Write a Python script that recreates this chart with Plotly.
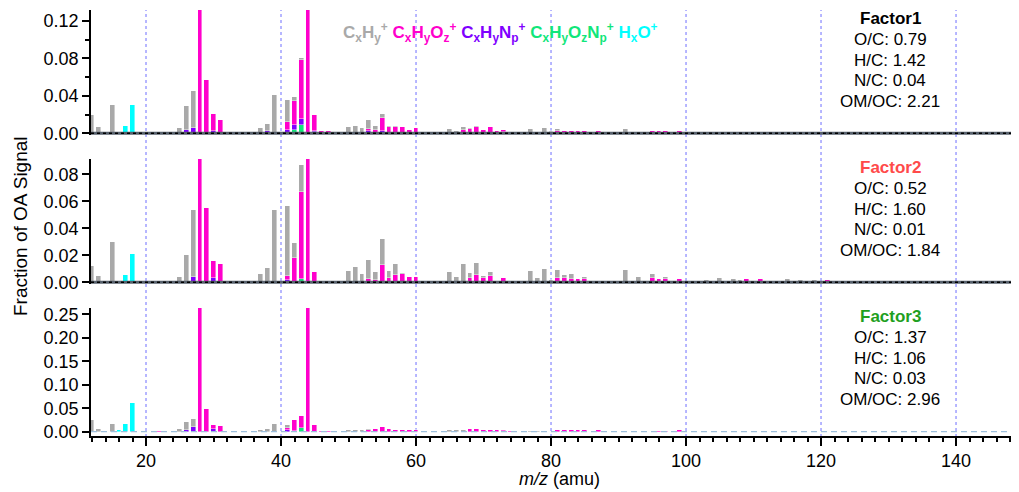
import plotly.graph_objects as go

# ---------------- data (fraction of OA signal by m/z and ion family) ----------------
F1_CxHy = {12: 0.020, 13: 0.0068, 15: 0.030, 24: 0.0008, 25: 0.006, 26: 0.026, 27: 0.040,
           37: 0.006, 38: 0.008, 39: 0.0406, 41: 0.0236, 42: 0.0043, 43: 0.0025, 50: 0.0068,
           51: 0.0078, 52: 0.0053, 53: 0.0096, 54: 0.0042, 55: 0.0043, 56: 0.001, 57: 0.001,
           65: 0.0046, 66: 0.0025, 67: 0.0028, 68: 0.001, 69: 0.001, 77: 0.0046, 78: 0.001,
           79: 0.0053, 80: 0.001, 81: 0.0026, 91: 0.0046, 105: 0.001}
F1_CxHyOz = {28: 0.14, 29: 0.057, 30: 0.0187, 31: 0.0139, 41: 0.008, 42: 0.0255, 43: 0.063,
             44: 0.14, 45: 0.017, 46: 0.002, 47: 0.002, 53: 0.0026, 54: 0.004, 55: 0.0135,
             56: 0.0064, 57: 0.0064, 58: 0.0064, 59: 0.0032, 60: 0.0057, 61: 0.001, 67: 0.004,
             68: 0.0047, 69: 0.007, 70: 0.0036, 71: 0.0064, 72: 0.0025, 73: 0.0026, 74: 0.001,
             81: 0.002, 82: 0.003, 83: 0.0025, 84: 0.002, 85: 0.003, 86: 0.001, 87: 0.002,
             95: 0.0025, 96: 0.002, 97: 0.002, 98: 0.0015, 99: 0.0025, 101: 0.001, 103: 0.001,
             109: 0.001, 111: 0.001, 113: 0.001}
F1_CxHyNp = {26: 0.0035, 27: 0.0057, 30: 0.002, 38: 0.002, 41: 0.004, 42: 0.0054, 43: 0.006,
             45: 0.002, 53: 0.002, 55: 0.0025, 80: 0.001}
F1_CxHyOzNp = {42: 0.0036, 43: 0.0089, 45: 0.001, 73: 0.001}
F1_HxO = {16: 0.001, 17: 0.0078, 18: 0.030}

F2_CxHy = {12: 0.0121, 13: 0.0047, 15: 0.030, 24: 0.0005, 25: 0.004, 26: 0.020, 27: 0.0491,
           37: 0.006, 38: 0.0106, 39: 0.0533, 41: 0.0518, 42: 0.0106, 43: 0.0197, 49: 0.0008,
           50: 0.0081, 51: 0.011, 52: 0.0062, 53: 0.014, 54: 0.006, 55: 0.0193, 56: 0.0049,
           57: 0.0079, 58: 0.0003, 61: 0.0007, 62: 0.0007, 65: 0.0074, 66: 0.004, 67: 0.0138,
           68: 0.0035, 69: 0.0089, 70: 0.0018, 71: 0.0027, 72: 0.0007, 74: 0.0007, 75: 0.0007,
           77: 0.0086, 78: 0.0035, 79: 0.010, 80: 0.0015, 81: 0.0054, 82: 0.0019, 83: 0.0037,
           85: 0.0015, 86: 0.0007, 89: 0.0007, 91: 0.0094, 92: 0.0007, 93: 0.004, 95: 0.0027,
           97: 0.0018, 98: 0.0007, 103: 0.0015, 105: 0.0032, 107: 0.0022, 108: 0.0015,
           115: 0.0025, 117: 0.0015, 119: 0.0015, 123: 0.001, 125: 0.0007, 128: 0.001}
F2_CxHyOz = {28: 0.095, 29: 0.055, 30: 0.0123, 31: 0.0138, 41: 0.0027, 42: 0.0183, 43: 0.0647,
             44: 0.095, 45: 0.0077, 46: 0.001, 47: 0.0005, 53: 0.0025, 54: 0.0017, 55: 0.0126,
             56: 0.0032, 57: 0.0057, 58: 0.0064, 59: 0.004, 60: 0.004, 68: 0.0032, 69: 0.0054,
             70: 0.0032, 71: 0.005, 73: 0.0025, 81: 0.0035, 82: 0.0035, 83: 0.0025, 84: 0.0025,
             85: 0.0025, 87: 0.0007, 94: 0.001, 95: 0.0035, 96: 0.0025, 97: 0.0022, 99: 0.0025,
             109: 0.0025, 111: 0.0022, 121: 0.0015}
F2_CxHyNp = {27: 0.0042, 30: 0.0035, 41: 0.002, 80: 0.0005}
F2_CxHyOzNp = {43: 0.0025, 73: 0.0005}
F2_HxO = {16: 0.001, 17: 0.0054, 18: 0.021}

F3_CxHy = {12: 0.025, 13: 0.0057, 15: 0.0156, 24: 0.001, 25: 0.0057, 26: 0.0171, 27: 0.016,
           37: 0.0035, 38: 0.0057, 39: 0.0156, 41: 0.005, 50: 0.004, 51: 0.004, 52: 0.004,
           53: 0.002, 65: 0.003, 66: 0.003, 67: 0.003, 77: 0.002, 78: 0.001}
F3_CxHyOz = {22: 0.0007, 28: 0.27, 29: 0.0475, 30: 0.0083, 31: 0.0114, 41: 0.005, 42: 0.022,
             43: 0.0248, 44: 0.27, 45: 0.015, 46: 0.001, 47: 0.001, 53: 0.004, 54: 0.006,
             55: 0.011, 56: 0.005, 57: 0.003, 58: 0.003, 59: 0.003, 60: 0.004, 68: 0.0057,
             69: 0.0057, 70: 0.004, 71: 0.004, 72: 0.003, 73: 0.003, 74: 0.002, 76: 0.001,
             81: 0.003, 82: 0.003, 83: 0.003, 84: 0.003, 85: 0.003, 87: 0.003, 96: 0.002,
             97: 0.002, 99: 0.003}
F3_CxHyNp = {26: 0.0035, 27: 0.010, 30: 0.0057, 41: 0.0035, 42: 0.002}
F3_CxHyOzNp = {43: 0.0078, 73: 0.001}
F3_HxO = {16: 0.0035, 17: 0.0163, 18: 0.061}

FACTOR_NAMES = ["Factor1", "Factor2", "Factor3"]
FACTOR_STATS = [
    ["O/C: 0.79", "H/C: 1.42", "N/C: 0.04", "OM/OC: 2.21"],
    ["O/C: 0.52", "H/C: 1.60", "N/C: 0.01", "OM/OC: 1.84"],
    ["O/C: 1.37", "H/C: 1.06", "N/C: 0.03", "OM/OC: 2.96"],
]
X_TICKS = [20, 40, 60, 80, 100, 120, 140]

# ---------------- styling ----------------
FONT = "Arial, 'Liberation Sans', sans-serif"
COL = {"CxHy": "#a9a9a9", "CxHyOz": "#ff00cc", "CxHyNp": "#7f00ff",
       "CxHyOzNp": "#11e67a", "HxO": "#00ffff"}
FACTOR_COLORS = ["#000000", "#ff4a4a", "#1fa01f"]

OFF = 8                      # the page body adds an 8px margin; compensate
W, H = 1019 - OFF, 492 - OFF
PL = 91 - OFF
XR = [11.85, 149.33]


def py(px):
    """reference-pixel y -> paper fraction"""
    return 1 - (px - OFF) / H


def pxf(px):
    """reference-pixel x -> paper fraction"""
    return (px - OFF - PL) / (W - PL)


factors = [
    (F1_CxHyOzNp, F1_CxHyNp, F1_CxHyOz, F1_CxHy, F1_HxO),
    (F2_CxHyOzNp, F2_CxHyNp, F2_CxHyOz, F2_CxHy, F2_HxO),
    (F3_CxHyOzNp, F3_CxHyNp, F3_CxHyOz, F3_CxHy, F3_HxO),
]
fam_order = ["CxHyOzNp", "CxHyNp", "CxHyOz", "CxHy", "HxO"]

fig = go.Figure()
for i, fac in enumerate(factors):
    ax = "" if i == 0 else str(i + 1)
    for fam, d in zip(fam_order, fac):
        fig.add_trace(go.Bar(
            x=list(d.keys()), y=list(d.values()), width=0.7,
            marker=dict(color=COL[fam], line=dict(color="rgba(255,255,255,0.7)", width=0.6)),
            xaxis="x" + ax, yaxis="y" + ax, showlegend=False, hoverinfo="x+y"))

panel_px = [(10, 135), (159, 284), (308, 436)]
yranges = [[-0.0018, 0.1317], [-0.0013, 0.0913], [-0.0092, 0.2634]]
ydticks = [0.04, 0.02, 0.05]
yminor = [0.02, None, None]

layout = dict(
    width=W, height=H, margin=dict(l=PL, r=0, t=0, b=0, autoexpand=False),
    paper_bgcolor="white", plot_bgcolor="white", barmode="stack", bargap=0,
    font=dict(family=FONT, size=18, color="black"),
)
for i in range(3):
    sfx = "" if i == 0 else str(i + 1)
    top, bot = panel_px[i]
    xa = dict(domain=[0, 1], range=XR, anchor="y" + sfx, showgrid=False, zeroline=False,
              fixedrange=True, automargin=False)
    if i == 2:
        xa.update(showline=True, linecolor="black", linewidth=1.5, ticks="outside",
                  ticklen=8, tickwidth=1.5, tickcolor="black", tickvals=X_TICKS,
                  tickfont=dict(size=18),
                  minor=dict(dtick=2, tick0=0, ticks="outside", ticklen=4, tickwidth=1.5,
                             tickcolor="black", showgrid=False))
    else:
        xa.update(showline=False, showticklabels=False, ticks="")
    ya = dict(domain=[py(bot), py(top)], range=yranges[i], anchor="x" + sfx,
              showgrid=False, zeroline=False, showline=True, linecolor="black",
              linewidth=1.5, ticks="outside", ticklen=7, tickwidth=1.5, tickcolor="black",
              dtick=ydticks[i], tick0=0, tickformat=".2f", tickfont=dict(size=18),
              fixedrange=True, automargin=False)
    if yminor[i]:
        ya["minor"] = dict(dtick=yminor[i], tick0=0, ticks="outside", ticklen=4,
                           tickwidth=1.5, tickcolor="black", showgrid=False)
    layout["xaxis" + sfx] = xa
    layout["yaxis" + sfx] = ya

shapes = []
for v in X_TICKS:
    shapes.append(dict(type="line", xref="x3", yref="paper", x0=v, x1=v,
                       y0=py(443), y1=py(10), layer="below",
                       line=dict(color="#6f6fff", width=1, dash="dot")))
for i in range(2):
    yr = "y" if i == 0 else "y2"
    shapes.append(dict(type="line", xref="paper", yref=yr, x0=0, x1=1, y0=0, y1=0,
                       line=dict(color="#58626e", width=3)))
    shapes.append(dict(type="line", xref="paper", yref=yr, x0=0, x1=1, y0=0, y1=0,
                       line=dict(color="black", width=1.5, dash="3px,3px")))
shapes.append(dict(type="line", xref="paper", yref="y3", x0=0, x1=1, y0=0, y1=0,
                   line=dict(color="#9dbfdc", width=1.3, dash="6px,4px")))
layout["shapes"] = shapes

ann = []
for i in range(3):
    top = panel_px[i][0]
    lines = [FACTOR_NAMES[i]] + FACTOR_STATS[i]
    for k, t in enumerate(lines):
        ann.append(dict(
            xref="paper", yref="paper", x=pxf(890), y=py(top + 8.5 + k * 20.8),
            xanchor="center", yanchor="middle", showarrow=False,
            text=("<b>%s</b>" % t) if k == 0 else t,
            font=dict(size=17, color=FACTOR_COLORS[i] if k == 0 else "black", family=FONT)))

legend_html = (
    "<b><span style='color:%s'>C<sub>x</sub>H<sub>y</sub><sup>+</sup></span> "
    "<span style='color:%s'>C<sub>x</sub>H<sub>y</sub>O<sub>z</sub><sup>+</sup></span> "
    "<span style='color:%s'>C<sub>x</sub>H<sub>y</sub>N<sub>p</sub><sup>+</sup></span> "
    "<span style='color:%s'>C<sub>x</sub>H<sub>y</sub>O<sub>z</sub>N<sub>p</sub><sup>+</sup></span> "
    "<span style='color:%s'>H<sub>x</sub>O<sup>+</sup></span></b>"
) % (COL["CxHy"], COL["CxHyOz"], COL["CxHyNp"], COL["CxHyOzNp"], COL["HxO"])
ann.append(dict(xref="paper", yref="paper", x=pxf(500), y=py(32),
                xanchor="center", yanchor="middle", showarrow=False, text=legend_html,
                font=dict(size=17, family=FONT)))

ann.append(dict(xref="paper", yref="paper", x=pxf(21), y=py(226),
                xanchor="center", yanchor="middle", showarrow=False, textangle=-90,
                text="Fraction of OA Signal", font=dict(size=19, family=FONT)))
ann.append(dict(xref="paper", yref="paper", x=pxf(559), y=py(479),
                xanchor="center", yanchor="middle", showarrow=False,
                text="<i>m/z</i> (amu)", font=dict(size=18, family=FONT)))
layout["annotations"] = ann

fig.update_layout(**layout)
fig.write_html("out.html")
